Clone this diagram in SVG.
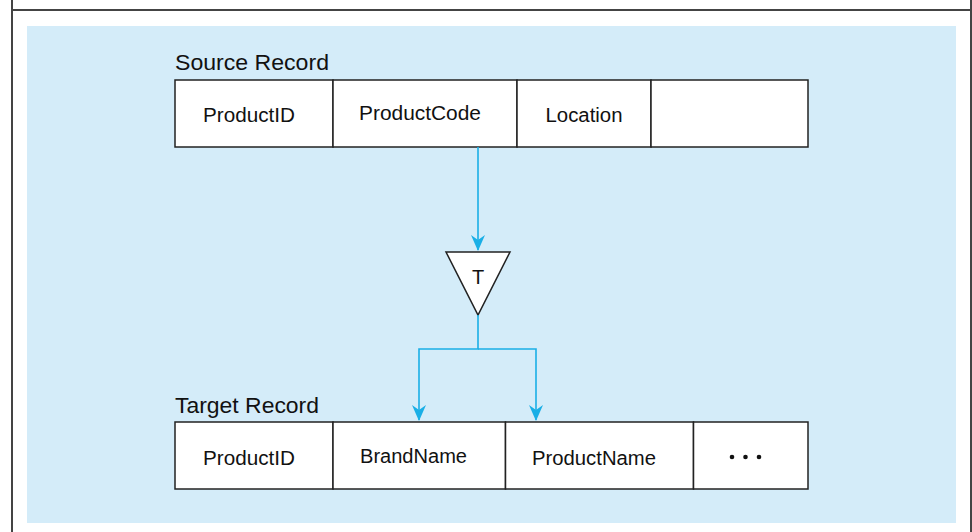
<svg xmlns="http://www.w3.org/2000/svg" width="972" height="532" viewBox="0 0 972 532">
<defs>
<style>
.frame{stroke:#444;stroke-width:2;fill:none}
.cell{fill:#fff;stroke:#222;stroke-width:1.5}
.lbl{font-family:"Liberation Sans",Arial,sans-serif;font-size:20px;fill:#111}
.title{font-family:"Liberation Sans",Arial,sans-serif;font-size:22px;fill:#111}
.conn{stroke:#1AAFE6;stroke-width:1.6;fill:none}
</style>
<marker id="arr" markerWidth="16" markerHeight="14" refX="15" refY="7" orient="auto" markerUnits="userSpaceOnUse" viewBox="0 0 16 14">
<path d="M0,0 L5,7 L0,14 L16,7 Z" fill="#1AAFE6"/>
</marker>
</defs>
<rect x="0" y="0" width="972" height="532" fill="#fff"/>
<g id="frame">
<line class="frame" x1="12" y1="0" x2="12" y2="532"/>
<line class="frame" x1="971" y1="0" x2="971" y2="532"/>
<line class="frame" x1="12" y1="10" x2="971" y2="10"/>
</g>
<rect id="panel" x="27" y="26" width="929" height="497" fill="#D4ECF9"/>
<g id="source-record">
<text class="title" x="175" y="70" textLength="154" lengthAdjust="spacingAndGlyphs">Source Record</text>
<rect class="cell" x="175" y="80" width="158" height="67"/>
<rect class="cell" x="333" y="80" width="184" height="67"/>
<rect class="cell" x="517" y="80" width="134" height="67"/>
<rect class="cell" x="651" y="80" width="157" height="67"/>
<text class="lbl" x="249" y="122" text-anchor="middle" textLength="92" lengthAdjust="spacingAndGlyphs">ProductID</text>
<text class="lbl" x="420" y="120" text-anchor="middle" textLength="122" lengthAdjust="spacingAndGlyphs">ProductCode</text>
<text class="lbl" x="584" y="122" text-anchor="middle" textLength="77" lengthAdjust="spacingAndGlyphs">Location</text>
</g>
<g id="transform">
<polygon points="446,252 510,252 478,315" fill="#fff" stroke="#222" stroke-width="1.5"/>
<text class="lbl" x="478" y="284" text-anchor="middle" font-size="22">T</text>
</g>
<g id="target-record">
<text class="title" x="175" y="413" textLength="144" lengthAdjust="spacingAndGlyphs">Target Record</text>
<rect class="cell" x="175" y="422" width="158" height="67"/>
<rect class="cell" x="333" y="422" width="172.5" height="67"/>
<rect class="cell" x="505.5" y="422" width="188" height="67"/>
<rect class="cell" x="693.5" y="422" width="114.5" height="67"/>
<text class="lbl" x="249" y="465" text-anchor="middle" textLength="92" lengthAdjust="spacingAndGlyphs">ProductID</text>
<text class="lbl" x="413.5" y="463" text-anchor="middle" textLength="107" lengthAdjust="spacingAndGlyphs">BrandName</text>
<text class="lbl" x="594" y="465" text-anchor="middle" textLength="124" lengthAdjust="spacingAndGlyphs">ProductName</text>
<g id="ellipsis" fill="#111">
<circle cx="732" cy="457" r="2.3"/>
<circle cx="745.5" cy="457" r="2.3"/>
<circle cx="759" cy="457" r="2.3"/>
</g>
</g>
<g id="connectors">
<line class="conn" x1="478" y1="147" x2="478" y2="250" marker-end="url(#arr)"/>
<polyline class="conn" points="478,315 478,349 419,349 419,420" marker-end="url(#arr)"/>
<polyline class="conn" points="478,349 536,349 536,420" marker-end="url(#arr)"/>
</g>
</svg>
